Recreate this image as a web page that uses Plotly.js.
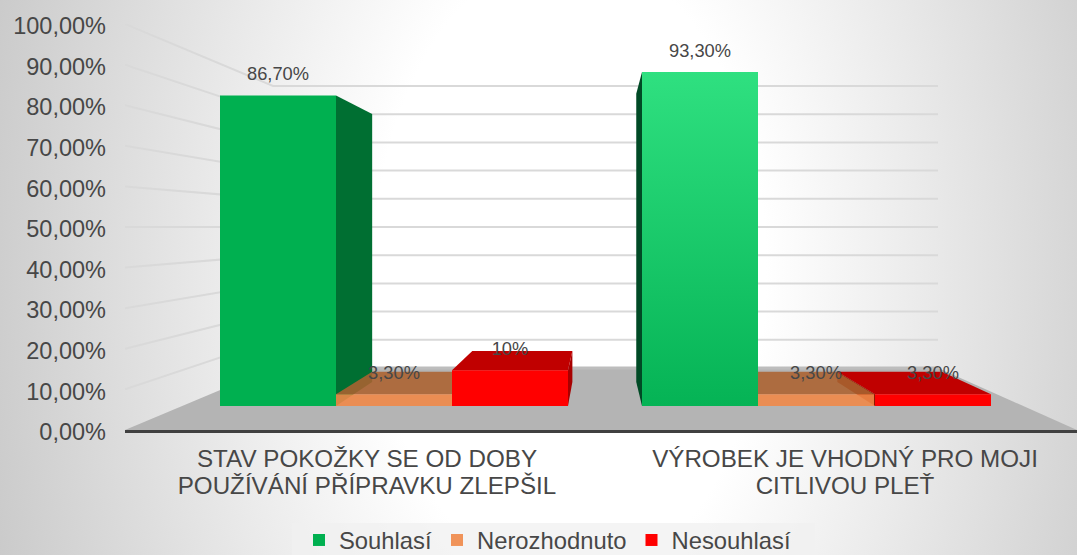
<!DOCTYPE html>
<html>
<head>
<meta charset="utf-8">
<script src="https://cdn.plot.ly/plotly-3.0.1.min.js"></script>
<style>
html,body{margin:0;padding:0;width:1077px;height:555px;overflow:hidden;
background:radial-gradient(ellipse 560px 900px at 570px 270px,#ffffff 35%,#c8c8c8 110%);}
#chart{width:1077px;height:555px;}
</style>
</head>
<body>
<div id="chart"></div>
<script>
// ---- data ----
const categories = ["STAV POKOŽKY SE OD DOBY<br>POUŽÍVÁNÍ PŘÍPRAVKU ZLEPŠIL", "VÝROBEK JE VHODNÝ PRO MOJI<br>CITLIVOU PLEŤ"];
const souhlasi = [86.7, 93.3];
const nerozhodnuto = [3.3, 3.3];
const nesouhlasi = [10, 3.3];
const labelsSouhlasi = ["86,70%", "93,30%"];
const labelsNerozhodnuto = ["3,30%", "3,30%"];
const labelsNesouhlasi = ["10%", "3,30%"];
const seriesNames = ["Souhlasí", "Nerozhodnuto", "Nesouhlasí"];
const yTicks = [0,10,20,30,40,50,60,70,80,90,100];
const yTickLabels = ["0,00%","10,00%","20,00%","30,00%","40,00%","50,00%","60,00%","70,00%","80,00%","90,00%","100,00%"];

// ---- pseudo-3D projection: value -> axis units on a given depth plane ----
const UNIT = 4.06;                       // px per axis unit
const plane = (basePx, scalePx) => v => (430 - basePx + scalePx * v) / UNIT;
const frontY = plane(406, 3.58);
const backY  = plane(382, 3.09);
const wallY  = plane(368, 2.82);
const frontLeftEdges = [[220,336,452],[642,758,875]];
const barW = 116;
const VX = 600, SHRINK = 0.863;
const backX = x => VX + SHRINK * (x - VX);
const backXR = (x, g, s) => (g === 1 && s === 2 && x > 900) ? 942 : backX(x);
const WALL_L = 273, WALL_R = 938, LEFT = 125, RIGHT = 1077;

const sideCol = {g:["#006f32","#004a25"], r:"#a80000"};
const traces = [];
function poly(pts, color){
  traces.push({type:"scatter",mode:"lines",x:pts.map(p=>p[0]).concat(pts[0][0]),y:pts.map(p=>p[1]).concat(pts[0][1]),
    fill:"toself",fillcolor:color,line:{width:0},showlegend:false,hoverinfo:"skip"});
}
function seg(xs, ys, color, w){
  traces.push({type:"scatter",mode:"lines",x:xs,y:ys,line:{color:color,width:w},showlegend:false,hoverinfo:"skip"});
}
// floor
poly([[LEFT,0],[WALL_L,wallY(0)],[WALL_R,wallY(0)],[RIGHT,0]], "#b4b4b4");
seg([WALL_L,WALL_R],[wallY(0),wallY(0)],"#bdbdbd",3);
// walls' gridlines
yTicks.forEach(t=>{
  if(t===0) return;
  seg([LEFT,WALL_L,WALL_R],[t,wallY(t),wallY(t)],"#d9d9d9",2);
});
// side and top faces
function sideFace(xf, v, color){
  const xb = backX(xf);
  poly([[xf,frontY(v)],[xb,backY(v)],[xb,backY(0)],[xf,frontY(0)]], color);
}
function topFace(xl, g, s, v, color){
  const xr = xl + barW;
  poly([[xl,frontY(v)],[xr,frontY(v)],[backXR(xr,g,s),backY(v)],[backX(xl),backY(v)]], color);
}
// green
sideFace(336, souhlasi[0], sideCol.g[0]);
sideFace(642, souhlasi[1], sideCol.g[1]);
// red
sideFace(568, nesouhlasi[0], sideCol.r);
sideFace(875, nesouhlasi[1], "#8f1a00");
topFace(452,0,2,nesouhlasi[0],"#c00000");
topFace(875,1,2,nesouhlasi[1],"#c00000");
// orange
topFace(336,0,1,nerozhodnuto[0],"rgba(172,98,48,.88)");
topFace(758,1,1,nerozhodnuto[1],"rgba(172,98,48,.88)");

// fronts: real bars on an overlaying axis pair
const fronts = [
  {name:seriesNames[0],vals:souhlasi,color:"#00b050",k:0},
  {name:seriesNames[1],vals:nerozhodnuto,color:"rgba(240,136,72,.9)",k:1},
  {name:seriesNames[2],vals:nesouhlasi,color:"#ff0000",k:2}
];
fronts.forEach(f=>{
  traces.push({type:"bar",name:f.name,xaxis:"x2",yaxis:"y2",
    x:frontLeftEdges.map(e=>e[f.k]+barW/2),
    y:f.vals.map(v=>frontY(v)-frontY(0)),
    base:f.vals.map(()=>frontY(0)),
    width:barW,marker:{color:f.color,line:{width:0}},hoverinfo:"skip"});
});
// lighter gradient on the second green bar
traces.push({type:"scatter",mode:"lines",xaxis:"x2",yaxis:"y2",
  x:[642,758,758,642,642],
  y:[frontY(0),frontY(0),frontY(souhlasi[1]),frontY(souhlasi[1]),frontY(0)],
  fill:"toself",line:{width:0},showlegend:false,hoverinfo:"skip",
  fillgradient:{type:"vertical",colorscale:[[0,"#05b355"],[1,"#2fe080"]]}});
// data labels
const labelX=[], labelY=[], labelT=[];
[[souhlasi,labelsSouhlasi,0],[nerozhodnuto,labelsNerozhodnuto,1],[nesouhlasi,labelsNesouhlasi,2]].forEach(([vals,lbs,k])=>{
  vals.forEach((v,i)=>{
    labelX.push(frontLeftEdges[i][k]+barW/2);
    labelY.push(frontY(v)+20/UNIT);
    labelT.push(lbs[i]);
  });
});
traces.push({type:"scatter",mode:"text",xaxis:"x2",yaxis:"y2",x:labelX,y:labelY,text:labelT,
  textposition:"middle center",textfont:{family:"Liberation Sans",size:18.3,color:"#474747"},
  showlegend:false,hoverinfo:"skip",cliponaxis:false});

const big = s => s.split("<br>").map(l=>"<span style='font-size:24.2px'>"+l+"</span>").join("<br>");
const layout = {
  width:1077,height:555,
  margin:{l:125,r:0,t:24,b:125,pad:0},
  paper_bgcolor:"rgba(0,0,0,0)",plot_bgcolor:"rgba(0,0,0,0)",
  showlegend:true,
  barmode:"overlay",
  font:{family:"Liberation Sans",color:"#474747"},
  xaxis:{range:[LEFT,RIGHT],tickmode:"array",tickvals:[367,845],ticktext:categories.map(big),
    ticks:"",showgrid:false,zeroline:false,showline:true,linecolor:"#404040",linewidth:3,
    tickfont:{size:20.8,color:"#474747"},ticklabelstandoff:9},
  yaxis:{range:[0,100],tickmode:"array",tickvals:yTicks,ticktext:yTickLabels,
    ticks:"",showgrid:false,zeroline:false,showline:false,tickfont:{size:23.5,color:"#474747"},
    ticklabelstandoff:18,ticklabelshift:2},
  xaxis2:{range:[LEFT,RIGHT],overlaying:"x",visible:false},
  yaxis2:{range:[0,100],overlaying:"y",visible:false},
  legend:{orientation:"h",xref:"container",yref:"container",x:299/1077,xanchor:"left",y:15/555,yanchor:"middle",
    bgcolor:"rgba(0,0,0,0)",font:{size:23.8,color:"#474747"},traceorder:"normal"},
  shapes:[{type:"rect",xref:"paper",yref:"paper",x0:(292-125)/952,x1:(815-125)/952,y0:(430-555)/406,y1:(430-523)/406,
    fillcolor:"rgba(240,240,240,.75)",line:{width:0},layer:"below"}]
};
Plotly.newPlot("chart",traces,layout,{displayModeBar:false,responsive:false});
</script>
</body>
</html>
